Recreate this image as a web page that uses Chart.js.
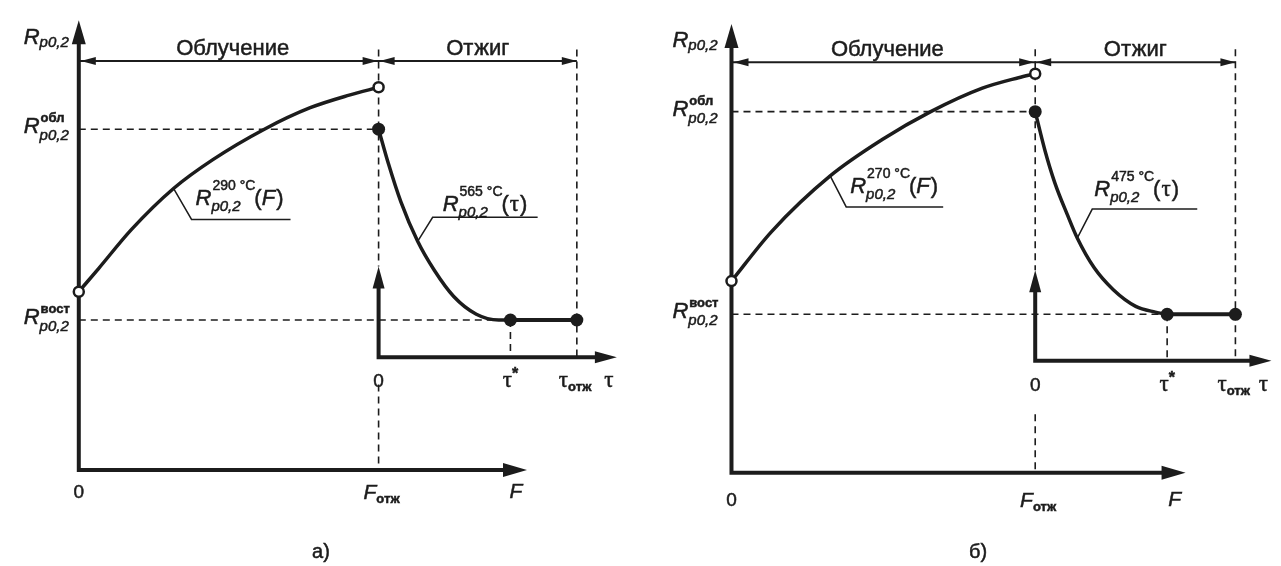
<!DOCTYPE html>
<html lang="ru">
<head>
<meta charset="utf-8">
<title>Rp0,2 — облучение и отжиг</title>
<script src="https://cdn.jsdelivr.net/npm/chart.js@4.4.1/dist/chart.umd.min.js"></script>
<style>
  html, body { margin: 0; padding: 0; background: #fff; }
  canvas { position: absolute; top: 0; }
</style>
</head>
<body>
<canvas id="chartA" width="640" height="566" style="left:0px"></canvas>
<canvas id="chartB" width="641" height="566" style="left:640px"></canvas>
<script>
// а) облучение 290 °C, отжиг 565 °C
const fluenceA = [0, 0.066, 0.176, 0.316, 0.446, 0.619, 0.772, 0.902, 1];
const strengthIrrA = [52.3, 59.1, 70.6, 82.6, 91, 100, 106.3, 110, 112.3];
const tauA = [0, 0.049, 0.113, 0.197, 0.281, 0.379, 0.493, 0.606, 0.665];
const strengthAnnA = [100, 90, 78.6, 67.1, 58.6, 50.9, 45.7, 44, 44];
const levelsA = [100, 44];        // R обл, R вост
const tauMarksA = [0.665, 1];     // τ*, τотж
const tempsA = ['290 °C', '565 °C'];

// б) облучение 270 °C, отжиг 475 °C
const fluenceB = [0, 0.132, 0.325, 0.495, 0.656, 0.826, 0.945, 1];
const strengthIrrB = [53.1, 66.8, 82.2, 92.2, 100, 106.5, 109.4, 110.5];
const tauB = [0, 0.049, 0.098, 0.161, 0.21, 0.293, 0.39, 0.502, 0.6, 0.659];
const strengthAnnB = [100, 89.2, 80.3, 71.4, 65, 56.9, 50.7, 46.1, 44.5, 43.9];
const levelsB = [100, 43.9];
const tauMarksB = [0.659, 1];
const tempsB = ['270 °C', '475 °C'];

const phaseLabels = ['Облучение', 'Отжиг'];
const fTicks = [['0', ''], ['F', 'отж'], ['F', '']];
const tauTicks = [['0', ''], ['τ', '*'], ['τ', 'отж'], ['τ', '']];
const levelSups = ['', 'обл', 'вост'];
const captions = ['а)', 'б)'];

const INK = '#1c1c1c';
const SANS = '"Liberation Sans", Arial, Helvetica, sans-serif';
const SERIF = '"Liberation Serif", "Times New Roman", serif';
const font = (style, size, fam) => style + ' ' + size + 'px ' + (fam || SANS);

function line(ctx, x1, y1, x2, y2) {
  ctx.beginPath(); ctx.moveTo(x1, y1); ctx.lineTo(x2, y2); ctx.stroke();
}
function head(ctx, x, y, dir, len, half) {
  ctx.beginPath(); ctx.moveTo(x, y);
  if (dir === 'up') { ctx.lineTo(x - half, y + len); ctx.lineTo(x + half, y + len); }
  if (dir === 'right') { ctx.lineTo(x - len, y - half); ctx.lineTo(x - len, y + half); }
  if (dir === 'left') { ctx.lineTo(x + len, y - half); ctx.lineTo(x + len, y + half); }
  ctx.closePath(); ctx.fill();
}
function width(ctx, s, f) { ctx.font = f; return ctx.measureText(s).width; }
// scanned print looks heavier than plain Arial, so fill plus a thin stroke
function text(ctx, s, x, y, f, align) {
  ctx.font = f; ctx.textAlign = align || 'left';
  ctx.fillText(s, x, y);
  ctx.lineWidth = 0.5; ctx.strokeText(s, x, y);
  return ctx.measureText(s).width;
}
// main glyph with a small index (sub or super), left or centred
function indexed(ctx, main, idx, x, base, fMain, fIdx, idxDy, centred) {
  const w1 = width(ctx, main, fMain), w2 = idx ? width(ctx, idx, fIdx) : 0;
  if (centred) x -= (w1 + w2) / 2;
  text(ctx, main, x, base, fMain);
  if (idx) text(ctx, idx, x + w1, base + idxDy, fIdx);
}
// R with stacked superscript and "p0,2" subscript
function rSym(ctx, x, base, sup, o) {
  const fR = font('italic', 22), fSub = font('italic', 15);
  const wR = width(ctx, 'R', fR);
  const w = wR + Math.max(width(ctx, 'p0,2', fSub), sup ? width(ctx, sup, o.supFont) : 0);
  if (o.right) x -= w;
  text(ctx, 'R', x, base, fR);
  text(ctx, 'p0,2', x + wR, base + o.subDy, fSub);
  if (sup) text(ctx, sup, x + wR + 1, base + o.supDy, o.supFont);
  return x + w;
}
function curveLabel(ctx, px, py, L, temp, isTau) {
  const ex = px + L.dx, ey = py + L.dy;
  ctx.lineWidth = 1.5;
  ctx.beginPath(); ctx.moveTo(px, py); ctx.lineTo(ex, ey); ctx.lineTo(ex + L.len, ey); ctx.stroke();
  const base = ey + L.base;
  let x = rSym(ctx, ex + L.tx, base, temp, { supFont: font('normal', 14), supDy: -15, subDy: 6 });
  x += text(ctx, '(', x, base, font('normal', 22));
  x += isTau ? text(ctx, 'τ', x + 1, base, font('normal', 23, SERIF)) + 2
             : text(ctx, 'F', x, base, font('italic', 22)) + 1;
  text(ctx, ')', x, base, font('normal', 22));
}

function makeChart(id, P) {
  const canvas = document.getElementById(id);
  const W = canvas.width, H = canvas.height, g = P.anchor;
  const irr = P.fluence.map((f, i) => ({ x: f, y: P.rIrr[i] }));
  const ann = P.tau.map((t, i) => ({ x: t, y: P.rAnn[i] }));
  const [rObl, rVost] = P.levels;
  const [tStar, tOtzh] = P.tauMarks;

  const datasets = [
    { data: [irr[0], irr[irr.length - 1]], xAxisID: 'x', yAxisID: 'y', showLine: false,
      pointRadius: 5, pointBackgroundColor: '#fff', pointBorderColor: INK, pointBorderWidth: 2.5 },
    { data: [ann[0], { x: tStar, y: rVost }, { x: tOtzh, y: rVost }], xAxisID: 'xt', yAxisID: 'y',
      showLine: false, pointRadius: 6.5, pointBackgroundColor: INK, pointBorderColor: INK, pointBorderWidth: 0 },
    { data: [{ x: tStar, y: rVost }, { x: tOtzh, y: rVost }], xAxisID: 'xt', yAxisID: 'y',
      showLine: true, borderColor: INK, borderWidth: 4, pointRadius: 0 },
    { data: ann, xAxisID: 'xt', yAxisID: 'y', showLine: true, borderColor: INK, borderWidth: 3.5,
      pointRadius: 0, cubicInterpolationMode: 'monotone' },
    { data: irr, xAxisID: 'x', yAxisID: 'y', showLine: true, borderColor: INK, borderWidth: 3.5,
      pointRadius: 0, cubicInterpolationMode: 'monotone' }
  ];

  const deco = {
    id: 'deco',
    beforeDatasetsDraw(chart) {
      const { ctx } = chart, s = chart.scales;
      const X = v => s.x.getPixelForValue(v), T = v => s.xt.getPixelForValue(v), Y = v => s.y.getPixelForValue(v);
      const ox = X(0), oy = Y(0), fx = X(1);
      ctx.save();
      ctx.strokeStyle = INK; ctx.fillStyle = INK;
      // dashed guide lines
      ctx.lineWidth = 1.6; ctx.setLineDash([7, 5]);
      line(ctx, fx, Y(P.dashTop), fx, Y(P.subTip));
      line(ctx, fx, Y(P.lowDash), fx, oy);
      line(ctx, T(tOtzh), Y(P.dashTop), T(tOtzh), Y(P.rSub));
      line(ctx, T(tStar), Y(rVost), T(tStar), Y(P.rSub));
      line(ctx, ox, Y(rObl), fx, Y(rObl));
      line(ctx, ox, Y(rVost), T(tStar), Y(rVost));
      ctx.setLineDash([]);
      // main axes
      ctx.lineWidth = 4;
      ctx.beginPath(); ctx.moveTo(ox, Y(P.rTop) + 20); ctx.lineTo(ox, oy); ctx.lineTo(X(P.fTip) - 20, oy); ctx.stroke();
      head(ctx, ox, Y(P.rTop), 'up', 24, 7);
      head(ctx, X(P.fTip), oy, 'right', 24, 7);
      // annealing sub-axes
      const sx0 = T(0), sy0 = Y(P.rSub);
      ctx.beginPath(); ctx.moveTo(sx0, Y(P.subTip) + 18); ctx.lineTo(sx0, sy0); ctx.lineTo(T(P.tauTip) - 18, sy0); ctx.stroke();
      head(ctx, sx0, Y(P.subTip), 'up', 22, 6);
      head(ctx, T(P.tauTip), sy0, 'right', 22, 6);
      // dimension line
      const dy = Y(P.rDim);
      ctx.lineWidth = 2;
      line(ctx, ox, dy, T(tOtzh), dy);
      head(ctx, ox + 2, dy, 'left', 15, 4);
      head(ctx, fx - 1, dy, 'right', 15, 4);
      head(ctx, fx + 1, dy, 'left', 15, 4);
      head(ctx, T(tOtzh), dy, 'right', 15, 4);
      ctx.restore();
    },
    afterDatasetsDraw(chart) {
      const { ctx } = chart, s = chart.scales;
      const X = v => s.x.getPixelForValue(v), T = v => s.xt.getPixelForValue(v), Y = v => s.y.getPixelForValue(v);
      const ox = X(0), oy = Y(0), fx = X(1);
      ctx.save();
      ctx.fillStyle = INK; ctx.strokeStyle = INK; ctx.textBaseline = 'alphabetic';
      const supF = font('bold', 13);
      // R labels on the vertical axis
      rSym(ctx, ox - P.lblGap, Y(P.rTop) + P.topBase, levelSups[0], { right: true, subDy: 3 });
      rSym(ctx, ox - P.lblGap, Y(rObl) + 4, levelSups[1], { right: true, supFont: supF, supDy: -11, subDy: 7 });
      rSym(ctx, ox - P.lblGap, Y(rVost) + 4, levelSups[2], { right: true, supFont: supF, supDy: -11, subDy: 7 });
      // phase titles
      text(ctx, phaseLabels[0], (ox + fx) / 2 + 4, Y(P.rDim) - 6, font('normal', 22), 'center');
      text(ctx, phaseLabels[1], (fx + T(tOtzh)) / 2, Y(P.rDim) - 6, font('normal', 22), 'center');
      // F axis ticks
      const tb = oy + P.tickDy;
      const fIdx = font('bold', 13);
      text(ctx, fTicks[0][0], ox, tb, font('normal', 19), 'center');
      indexed(ctx, fTicks[1][0], fTicks[1][1], fx + 3, tb + 1, font('italic', 21), fIdx, 4, true);
      text(ctx, fTicks[2][0], X(P.fTip) - 11, tb, font('italic', 21), 'center');
      // τ axis ticks
      const sb = Y(P.rSub) + 30, fTau = font('normal', 23, SERIF);
      text(ctx, tauTicks[0][0], T(0), sb, font('normal', 19), 'center');
      indexed(ctx, tauTicks[1][0], tauTicks[1][1], T(tStar), sb, fTau, font('bold', 16), -8, true);
      indexed(ctx, tauTicks[2][0], tauTicks[2][1], T(tOtzh) - 18, sb, fTau, fIdx, 4, false);
      text(ctx, tauTicks[3][0], T(P.tauTip) - 8, sb, fTau, 'center');
      // curve labels with leaders
      const li = P.labF.idx, lt = P.labT.idx;
      curveLabel(ctx, X(P.fluence[li]), Y(P.rIrr[li]), P.labF, P.temps[0], false);
      curveLabel(ctx, T(P.tau[lt]), Y(P.rAnn[lt]), P.labT, P.temps[1], true);
      // caption
      text(ctx, P.caption, P.capX, H - 8, font('normal', 20), 'center');
      ctx.restore();
    }
  };

  return new Chart(canvas, {
    type: 'scatter',
    data: { datasets: datasets },
    options: {
      responsive: false,
      animation: false,
      devicePixelRatio: 1,
      events: [],
      layout: { padding: 0 },
      plugins: { legend: { display: false }, tooltip: { enabled: false } },
      scales: {
        x: { type: 'linear', display: false, min: -g.x0 / g.fUnit, max: (W - g.x0) / g.fUnit },
        xt: { type: 'linear', axis: 'x', display: false, min: -g.t0 / g.tUnit, max: (W - g.t0) / g.tUnit },
        y: { type: 'linear', display: false, min: -(H - g.y0) / g.rUnit, max: g.y0 / g.rUnit }
      }
    },
    plugins: [deco]
  });
}

makeChart('chartA', {
  fluence: fluenceA, rIrr: strengthIrrA, tau: tauA, rAnn: strengthAnnA,
  levels: levelsA, tauMarks: tauMarksA, temps: tempsA, caption: captions[0],
  anchor: { x0: 73, fUnit: 307, t0: 380, tUnit: 203, y0: 475, rUnit: 3.5 },
  rTop: 132, fTip: 1.495, rDim: 120, dashTop: 123.4, rSub: 33.1, subTip: 59.7,
  tauTip: 1.202, lowDash: 25.1, topBase: 24, lblGap: 10, tickDy: 28, capX: 321,
  labF: { idx: 3, dx: 18, dy: 31, len: 99, tx: 4, base: -14 },
  labT: { idx: 3, dx: 15, dy: -24, len: 105, tx: 10, base: -6 }
});

makeChart('chartB', {
  fluence: fluenceB, rIrr: strengthIrrB, tau: tauB, rAnn: strengthAnnB,
  levels: levelsB, tauMarks: tauMarksB, temps: tempsB, caption: captions[1],
  anchor: { x0: 86, fUnit: 311, t0: 397, tUnit: 205, y0: 478, rUnit: 3.71 },
  rTop: 124.3, fTip: 1.495, rDim: 113.7, dashTop: 117.3, rSub: 31, subTip: 56.1,
  tauTip: 1.18, lowDash: 16.2, topBase: 23, lblGap: 14, tickDy: 33, capX: 338,
  labF: { idx: 2, dx: 16, dy: 31, len: 97, tx: 4, base: -14 },
  labT: { idx: 4, dx: 15, dy: -29, len: 105, tx: 2, base: -13 }
});
</script>
</body>
</html>
